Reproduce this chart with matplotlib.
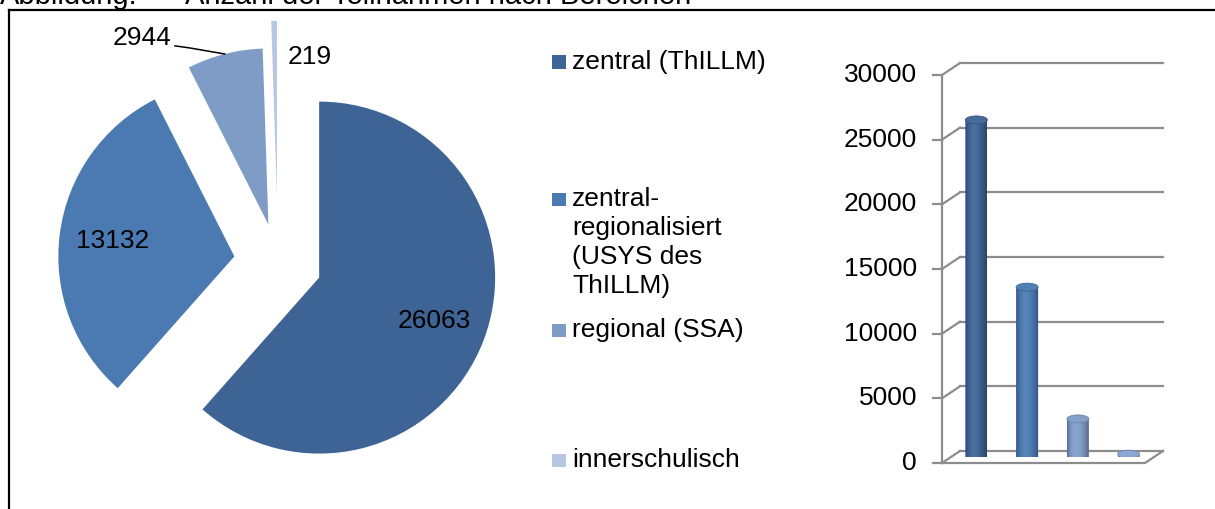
import numpy as np
import matplotlib
matplotlib.use('Agg')
import matplotlib.pyplot as plt
from matplotlib.colors import to_rgb
from matplotlib.patches import Ellipse, Polygon, Rectangle
from matplotlib.lines import Line2D

plt.rcParams['font.family'] = ['Liberation Sans', 'DejaVu Sans']

# data
categories = ['zentral (ThILLM)',
              'zentral-\nregionalisiert\n(USYS des\nThILLM)',
              'regional (SSA)',
              'innerschulisch']
values = [26063, 13132, 2944, 219]
y_ticks = [0, 5000, 10000, 15000, 20000, 25000, 30000]
title_left = 'Abbildung:'
title_right = 'Anzahl der Teilnahmen nach Bereichen'

colors = ['#3E6496', '#4A7AB1', '#7F9CC7', '#B7C6E2']
grid_col = '#8C8C8C'

W, H = 1215, 509
fig = plt.figure(figsize=(W / 100, H / 100), dpi=100)


def fx(x):
    return x / W


def fy(y):
    return 1 - y / H


# title (cut off at the top, as in the source) and frame
fig.text(fx(0), fy(4), title_left, fontsize=21, va='baseline')
fig.text(fx(185), fy(4), title_right, fontsize=21, va='baseline')
fig.add_artist(Line2D([fx(9), 1], [fy(9.5), fy(9.5)], color='black', lw=1.6))
fig.add_artist(Line2D([fx(9), fx(9)], [0, fy(9.5)], color='black', lw=1.6))

# ---- pie ----
R = 176
cx, cy = 278, 262
ax_pie = fig.add_axes([fx(11), 0, (530 - 11) / W, (509 - 11) / H])
total = sum(values)
wedges, texts, autotexts = ax_pie.pie(
    values, colors=colors, explode=[0.25, 0.25, 0.22, 0.37],
    startangle=90, counterclock=False,
    autopct=lambda p: f'{p * total / 100:.0f}', pctdistance=0.7,
    textprops=dict(fontsize=19, color='black'))
ax_pie.set_aspect('auto')
ax_pie.set_xlim((11 - cx) / R, (530 - cx) / R)
ax_pie.set_ylim((cy - 509) / R, (cy - 11) / R)

# outside labels for the small slices
autotexts[2].set_position((-0.77, 1.27))
autotexts[3].set_position((0.18, 1.165))
wd = wedges[2]
mid = np.deg2rad((wd.theta1 + wd.theta2) / 2)
end = (wd.center[0] + wd.r * np.cos(mid), wd.center[1] + wd.r * np.sin(mid))
ax_pie.plot([-0.585, -0.5, end[0]], [1.228, 1.216, end[1]], color='black', lw=1.1)

# ---- legend ----
legend_y = [62, 199, 330, 460]
for lab, c, y in zip(categories, colors, legend_y):
    fig.add_artist(Rectangle((fx(552), fy(y + 6.5)), 14 / W, 13 / H,
                             facecolor=c, edgecolor='none'))
    for k, line in enumerate(lab.split('\n')):
        fig.text(fx(572), fy(y + 29 * k), line, fontsize=19, va='center')

# ---- 3d style cylinder bars ----
ax_bar = fig.add_axes([fx(951), fy(457), 203 / W, 388 / H])
ax_bar.axis('off')
px_x = 203 / 4
px_y = 388 / 30000
DX = 9 / px_x
DY = 6 / px_y
x0, x1 = -0.5, 3.5

# walls / gridlines
for v in y_ticks:
    ax_bar.plot([x0 - DX, x0 + DX], [v - DY, v + DY], color=grid_col, lw=1.6, clip_on=False)
    ax_bar.plot([x0 + DX, x1 + DX], [v + DY, v + DY], color=grid_col, lw=1.6, clip_on=False)
    ax_bar.plot([x0 - DX - 9 / px_x, x0 - DX], [v - DY, v - DY], color=grid_col, lw=1.6, clip_on=False)
    ax_bar.text(x0 - DX - 25 / px_x, v - DY, f'{v}', ha='right', va='center', fontsize=19)
ax_bar.plot([x0 - DX, x1 - DX, x1 + DX], [-DY, -DY, DY], color=grid_col, lw=1.6, clip_on=False)
ax_bar.plot([x0 - DX, x0 - DX], [-DY, y_ticks[-1] - DY], color=grid_col, lw=1.6, clip_on=False)


def shade(base, f):
    out = np.empty((len(f), 3))
    for j, k in enumerate(f):
        if k <= 1:
            out[j] = base * k
        else:
            out[j] = base + (1 - base) * (k - 1)
    return np.clip(out, 0, 1)


bw = 22 / px_x
eh = 8 / px_y
t = np.linspace(0, 1, 80)
prof = 0.68 + 0.40 * np.sin(np.pi * t ** 0.8)
for i, (v, c) in enumerate(zip(values, colors)):
    base = np.array(to_rgb(c))
    if i == 3:
        base = np.array(to_rgb(colors[2])) * 1.05
    grad = shade(base, prof)[None, :, :]
    ang = np.linspace(np.pi, 2 * np.pi, 40)
    pts = [(i + bw / 2 * np.cos(a), eh / 2 * np.sin(a)) for a in ang]
    pts += [(i + bw / 2, v), (i - bw / 2, v)]
    clip = Polygon(pts, closed=True, transform=ax_bar.transData)
    im = ax_bar.imshow(grad, extent=[i - bw / 2, i + bw / 2, -eh / 2, v],
                       aspect='auto', interpolation='bilinear', zorder=3)
    im.set_clip_path(clip)
    ax_bar.add_patch(Ellipse((i, v), bw, eh, facecolor=shade(base, [1.04])[0],
                             edgecolor=shade(base, [0.85])[0], lw=0.6, zorder=4))

ax_bar.set_xlim(x0, x1)
ax_bar.set_ylim(0, 30000)

fig.savefig('out.png', dpi=100)
